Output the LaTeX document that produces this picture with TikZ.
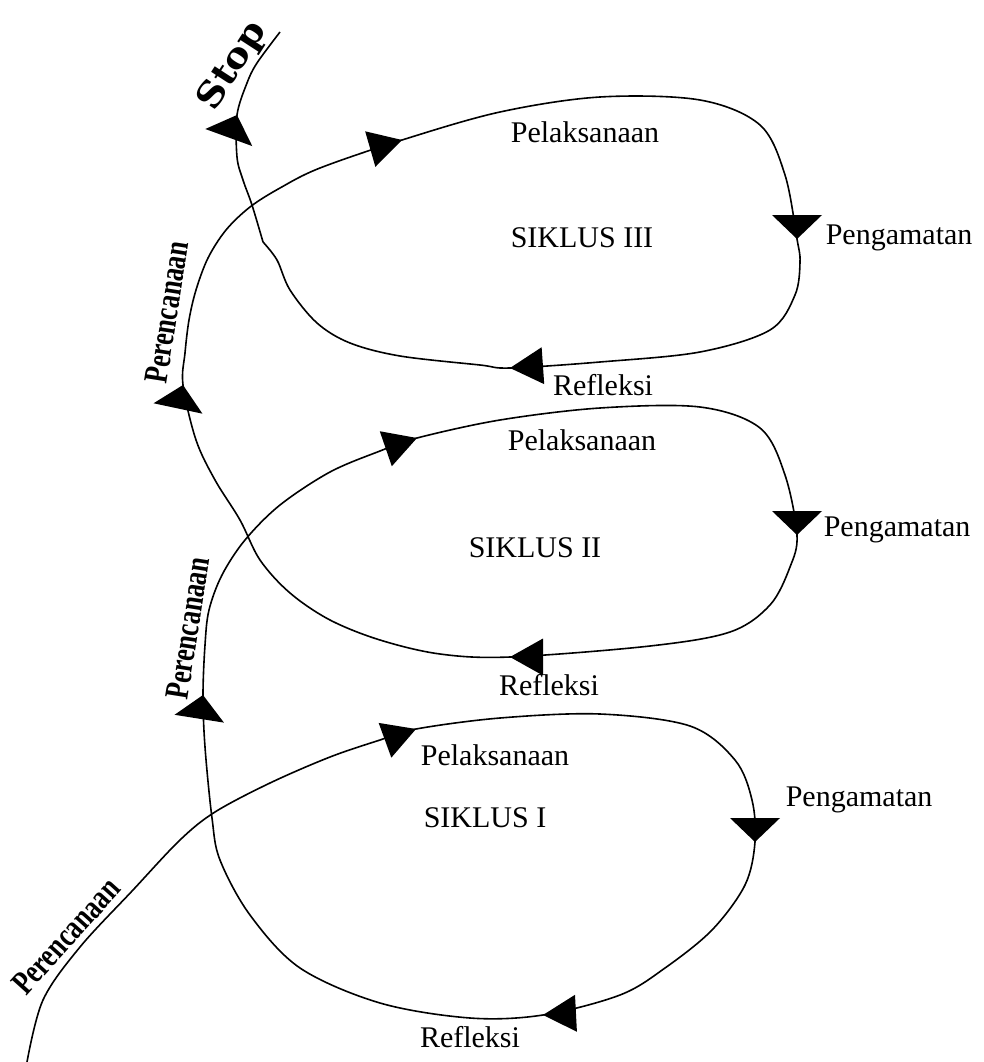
\documentclass[tikz,border=0pt]{standalone}
\usepackage{graphicx}
\usepackage{fontspec}
\setmainfont{Liberation Serif}
\newfontfamily\stopfont{DejaVu Serif}
\newfontfamily\planfont{Liberation Serif}
\newcommand{\planlabel}{\scalebox{0.76}[1]{\fontsize{34}{35}\selectfont\planfont\bfseries Perencanaan}}
\begin{document}
\begin{tikzpicture}[x=1pt,y=-1pt,line width=1.6pt,
  lbl/.style={inner sep=0pt,font=\fontsize{30}{31}\selectfont},
  plan/.style={inner sep=0pt},
  narrowhead/.pic={\fill (0,0) -- (-33,18.5) -- (-33,-18.5) -- cycle;},
  widehead/.pic={\fill (0,0) -- (-24,25) -- (-24,-25) -- cycle;}]
\useasboundingbox (0,0) rectangle (984,1062);
% arrow tip coordinates
\coordinate (P1) at (416,729);
\coordinate (G1) at (755,842);
\coordinate (R1) at (543,1015);
\coordinate (Q2) at (203,695);
\coordinate (P2) at (417,438);
\coordinate (G2) at (797,535);
\coordinate (R2) at (510,657);
\coordinate (Q3) at (183,385);
\coordinate (P3) at (402,140);
\coordinate (G3) at (797,239);
\coordinate (R3) at (510,368);
\coordinate (K) at (263,242);
\coordinate (S) at (237,115);
% spiral
\draw plot[smooth,tension=0.55] coordinates {
 (27,1062) (43,1000) (80,947) (133,890) (180,840) (215,812) (270,783) (330,757) (380,740) (P1)
 (500,718) (600,714) (690,726) (735,760) (752,800) (G1)
 (745,885) (712,930) (665,968) (620,995) (R1)
 (470,1018) (380,1003) (300,968) (250,915) (220,860) (212,818) (205,747) (Q2)
 (205,645) (209,610) (222,575) (245,540) (280,505) (330,472) (380,451) (P2)
 (500,420) (600,408) (700,407) (760,428) (785,475) (G2)
 (790,567) (770,605) (730,632) (650,646) (R2)
 (440,654) (380,640) (330,620) (290,593) (260,560) (240,520) (215,480) (196,440) (Q3)
 (185,353) (189,320) (196,290) (208,258) (226,230) (250,207) (280,188) (320,168) (P3)
 (500,112) (600,97) (700,100) (760,125) (785,175) (G3)
 (800,262) (795,295) (770,330) (700,352) (600,362) (R3)
 (480,365) (400,356) (350,343) (317,323) (290,290) (277,260) (K)};
\draw plot[smooth,tension=0.55] coordinates {(K) (252,205) (243,180) (237,157) (S) (247,83) (257,63) (280,32)};
% arrowheads
\pic[rotate=20] at (P1) {narrowhead};
\pic[rotate=-90] at (G1) {widehead};
\pic[rotate=183] at (R1) {narrowhead};
\pic[rotate=81] at (Q2) {widehead};
\pic[rotate=19] at (P2) {narrowhead};
\pic[rotate=-90] at (G2) {widehead};
\pic[rotate=180] at (R2) {narrowhead};
\pic[rotate=78] at (Q3) {widehead};
\pic[rotate=16] at (P3) {narrowhead};
\pic[rotate=-90] at (G3) {widehead};
\pic[rotate=184] at (R3) {narrowhead};
\pic[rotate=70] at (S) {widehead};
% labels
\node[lbl] (pel3) at (585,132) {Pelaksanaan};
\node[lbl] (sik3) at (582,238) {SIKLUS III};
\node[lbl,anchor=west] (pen3) at (825,238) {Pengamatan};
\node[lbl] (ref3) at (603,385) {Refleksi};
\node[lbl] (pel2) at (582,440) {Pelaksanaan};
\node[lbl] (sik2) at (535,548) {SIKLUS II};
\node[lbl,anchor=west] (pen2) at (823,530) {Pengamatan};
\node[lbl] (ref2) at (549,685) {Refleksi};
\node[lbl] (pel1) at (495,755) {Pelaksanaan};
\node[lbl] (sik1) at (485,818) {SIKLUS I};
\node[lbl,anchor=west] (pen1) at (785,800) {Pengamatan};
\node[lbl] (ref1) at (470,1037) {Refleksi};
\node[plan,rotate=81] (plan3) at (167,312) {\planlabel};
\node[plan,rotate=81] (plan2) at (188,628) {\planlabel};
\node[plan,rotate=48] (plan1) at (66,936) {\planlabel};
\node[inner sep=0pt,rotate=57] (stop) at (233,66) {\scalebox{1.1}[1]{\fontsize{35}{36}\selectfont\stopfont\bfseries Stop}};
\end{tikzpicture}
\end{document}
